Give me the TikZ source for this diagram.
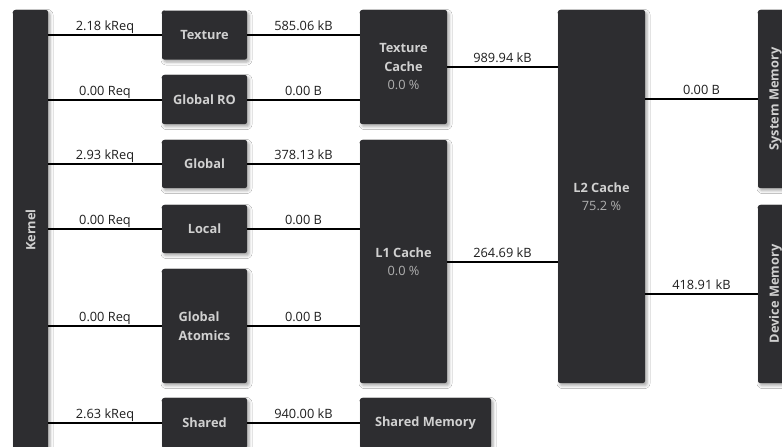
\documentclass[tikz,border=0pt]{standalone}
\usepackage{fontspec}
\setmainfont{Open Sans}
\usetikzlibrary{shadows.blur}
\definecolor{boxfill}{HTML}{2D2D30}
\definecolor{boxtext}{HTML}{D0D0D0}
\definecolor{pcttext}{HTML}{B0B0B0}
\definecolor{labeltext}{HTML}{1E1E1E}
\begin{document}
\begin{tikzpicture}[x=1pt,y=-1pt,
  unit/.style={fill=boxfill, rounded corners=2pt, inner sep=0pt, text=boxtext,
    font=\fontsize{12.8}{18.5}\selectfont\bfseries, align=center,
    blur shadow={shadow xshift=2pt, shadow yshift=-2.5pt, shadow blur radius=3pt, shadow opacity=35}},
  vlabel/.style={rotate=90, text=boxtext, font=\fontsize{12.8}{18}\selectfont\bfseries, inner sep=0pt},
  link/.style={draw=black, line width=2pt},
  lbl/.style={above, font=\fontsize{12.8}{14}\selectfont, text=labeltext, inner sep=0.3pt, text depth=3pt},
]
\useasboundingbox (0,0) rectangle (782,447);
\clip (0,0) rectangle (782,447);
\fill[white] (0,0) rectangle (782,447);

% Kernel
\node[unit, minimum width=35pt, minimum height=440pt] (kernel) at (30.5,230) {};
\node[vlabel] (kernellbl) at (kernel.center) {Kernel};

% first column
\node[unit, minimum width=85pt, minimum height=49pt] (tex) at (204.5,35) {Texture};
\node[unit, minimum width=85pt, minimum height=49pt] (gro) at (204.5,99.5) {Global RO};
\node[unit, minimum width=85pt, minimum height=48pt] (glob) at (204.5,164) {Global};
\node[unit, minimum width=85pt, minimum height=48pt] (loc) at (204.5,229) {Local};
\node[unit, minimum width=85pt, minimum height=114pt, align=left] (atom) at (204.5,326) {Global\\Atomics};
\node[unit, minimum width=85pt, minimum height=50pt] (shr) at (204.5,423) {Shared};

% second column
\node[unit, minimum width=87pt, minimum height=114pt] (tc) at (403.5,67) {Texture\\Cache\\{\mdseries\color{pcttext}0.0 \%}};
\node[unit, minimum width=87pt, minimum height=243pt] (l1) at (403.5,261.5) {L1 Cache\\{\mdseries\color{pcttext}0.0 \%}};
\node[unit, minimum width=131pt, minimum height=50pt] (smem) at (425.5,423) {Shared Memory};

% third column
\node[unit, minimum width=87pt, minimum height=373pt] (l2) at (601.5,196.5) {L2 Cache\\{\mdseries\color{pcttext}75.2 \%}};

% memories
\node[unit, minimum width=35pt, minimum height=178pt] (sys) at (775.5,99) {};
\node[vlabel] (syslbl) at (sys.center) {System Memory};
\node[unit, minimum width=35pt, minimum height=178pt] (dev) at (775.5,294) {};
\node[vlabel] (devlbl) at (dev.center) {Device Memory};

% connectors
\draw[link] (tex.west -| kernel.east) -- node[lbl] {2.18 kReq} (tex.west);
\draw[link] (gro.west -| kernel.east) -- node[lbl] {0.00 Req} (gro.west);
\draw[link] (glob.west -| kernel.east) -- node[lbl] {2.93 kReq} (glob.west);
\draw[link] (loc.west -| kernel.east) -- node[lbl] {0.00 Req} (loc.west);
\draw[link] (atom.west -| kernel.east) -- node[lbl] {0.00 Req} (atom.west);
\draw[link] (shr.west -| kernel.east) -- node[lbl] {2.63 kReq} (shr.west);

\draw[link] (tex.east) -- node[lbl] {585.06 kB} (tex.east -| tc.west);
\draw[link] (gro.east) -- node[lbl] {0.00 B} (gro.east -| tc.west);
\draw[link] (glob.east) -- node[lbl] {378.13 kB} (glob.east -| l1.west);
\draw[link] (loc.east) -- node[lbl] {0.00 B} (loc.east -| l1.west);
\draw[link] (atom.east) -- node[lbl] {0.00 B} (atom.east -| l1.west);
\draw[link] (shr.east) -- node[lbl] {940.00 kB} (smem.west);

\draw[link] (tc.east) -- node[lbl] {989.94 kB} (tc.east -| l2.west);
\draw[link] (l1.east) -- node[lbl] {264.69 kB} (l1.east -| l2.west);

\draw[link] (sys.west -| l2.east) -- node[lbl] {0.00 B} (sys.west);
\draw[link] (dev.west -| l2.east) -- node[lbl] {418.91 kB} (dev.west);
\end{tikzpicture}
\end{document}
